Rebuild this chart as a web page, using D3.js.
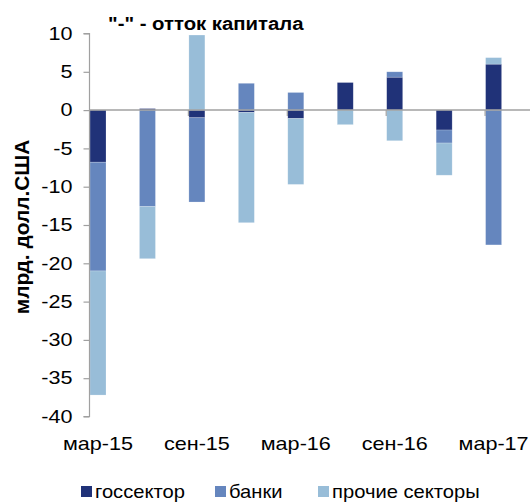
<!DOCTYPE html>
<html><head><meta charset="utf-8">
<script src="https://cdn.jsdelivr.net/npm/d3@7"></script>
<style>body{margin:0;background:#fff}svg{display:block}text{font-family:"Liberation Sans",Arial,sans-serif}</style>
</head><body><svg id="c" width="530" height="503"></svg>
<script>
const categories = ["мар-15","июн-15","сен-15","дек-15","мар-16","июн-16","сен-16","дек-16","мар-17"];
const tickLabels = ["мар-15","сен-15","мар-16","сен-16","мар-17"];
const seriesNames = ["госсектор","банки","прочие секторы"];
const gos    = [-6.8,  0.2, -1.0, -0.3, -1.1,  3.6,  4.3, -2.6,  6.0];
const banks  = [-14.2,-12.6,-11.0, 3.5,  2.3,  0.0,  0.7, -1.7, -17.6];
const others = [-16.2, -6.8,  9.8,-14.4, -8.6, -1.9, -4.0, -4.2,  0.85];
const yTicks = [10,5,0,-5,-10,-15,-20,-25,-30,-35,-40];
const colors = ["#203278","#6586be","#98bdd8"];

const svg = d3.select("#c");
const y = d3.scaleLinear().domain([-40,10]).range([416.5,33.5]);
const x = d3.scaleBand().domain(categories).range([89.5, 89.5+9*49.45]).padding(0);
const barW = 16;
const SX = 1.2;

const rows = categories.map((c,i)=>({cat:c, s0:gos[i], s1:banks[i], s2:others[i]}));
const stack = d3.stack().keys(["s0","s1","s2"]).offset(d3.stackOffsetDiverging);
const layers = stack(rows);

const g = svg.append("g");
layers.forEach((layer,k)=>{
  g.selectAll(null).data(layer).enter().append("rect")
    .attr("x", d=>x(d.data.cat)+0.5)
    .attr("width", barW)
    .attr("y", d=>y(Math.max(d[0],d[1])))
    .attr("height", d=>Math.abs(y(d[0])-y(d[1])))
    .attr("fill", colors[k])
    .attr("stroke","#ffffff").attr("stroke-opacity",0.35).attr("stroke-width",0.6);
});

// y axis
const yAxis = d3.axisLeft(y).tickValues(yTicks).tickSize(6).tickPadding(11).tickFormat(d=>String(d));
const ya = svg.append("g").attr("transform","translate(89.5,0)").call(yAxis);
ya.select(".domain").attr("stroke","#a0a0a0").attr("stroke-width",1.2).attr("d","M-6,"+y(10)+"H0V"+y(-40)+"H-6");
ya.selectAll(".tick line").attr("stroke","#a0a0a0").attr("stroke-width",1.2);
ya.selectAll(".tick text").attr("font-size",18).attr("fill","#000")
  .attr("font-family","Liberation Sans, Arial, sans-serif")
  .attr("x",0).attr("transform","translate(-17,0) scale("+SX+",1)");

// zero line
svg.append("line").attr("x1",89.5).attr("x2",530).attr("y1",y(0)).attr("y2",y(0))
  .attr("stroke","#a0a0a0").attr("stroke-width",1.5);
categories.forEach((c,i)=>{ if(i%2===0 && i>0){
  svg.append("line").attr("x1",x(c)).attr("x2",x(c)).attr("y1",y(0)).attr("y2",y(0)+6)
    .attr("stroke","#a0a0a0").attr("stroke-width",1.2);
}});

// x tick labels
svg.selectAll(".xl").data(tickLabels).enter().append("text")
  .attr("transform", d=>"translate("+(x(d)+0.5+barW/2)+",450) scale("+SX+",1)")
  .attr("text-anchor","middle").attr("font-size",18).attr("fill","#000").text(d=>d);

// title
svg.append("text").attr("transform","translate(108,30) scale(1.13,1)").attr("font-size",18).attr("font-weight","bold")
  .text('"-" - отток капитала');

// y label
svg.append("text").attr("transform","translate(29,227) rotate(-90) scale(1.16,1.1)")
  .attr("text-anchor","middle").attr("font-size",18).attr("font-weight","bold").text("млрд. долл.США");

// legend
const legX = [81, 215, 318];
seriesNames.forEach((n,i)=>{
  svg.append("rect").attr("x",legX[i]).attr("y",486).attr("width",11).attr("height",11).attr("fill",colors[i]);
  svg.append("text").attr("transform","translate("+(legX[i]+14)+",498) scale(1.12,1)")
    .attr("font-size",18).attr("fill","#000").text(n);
});
</script></body></html>
